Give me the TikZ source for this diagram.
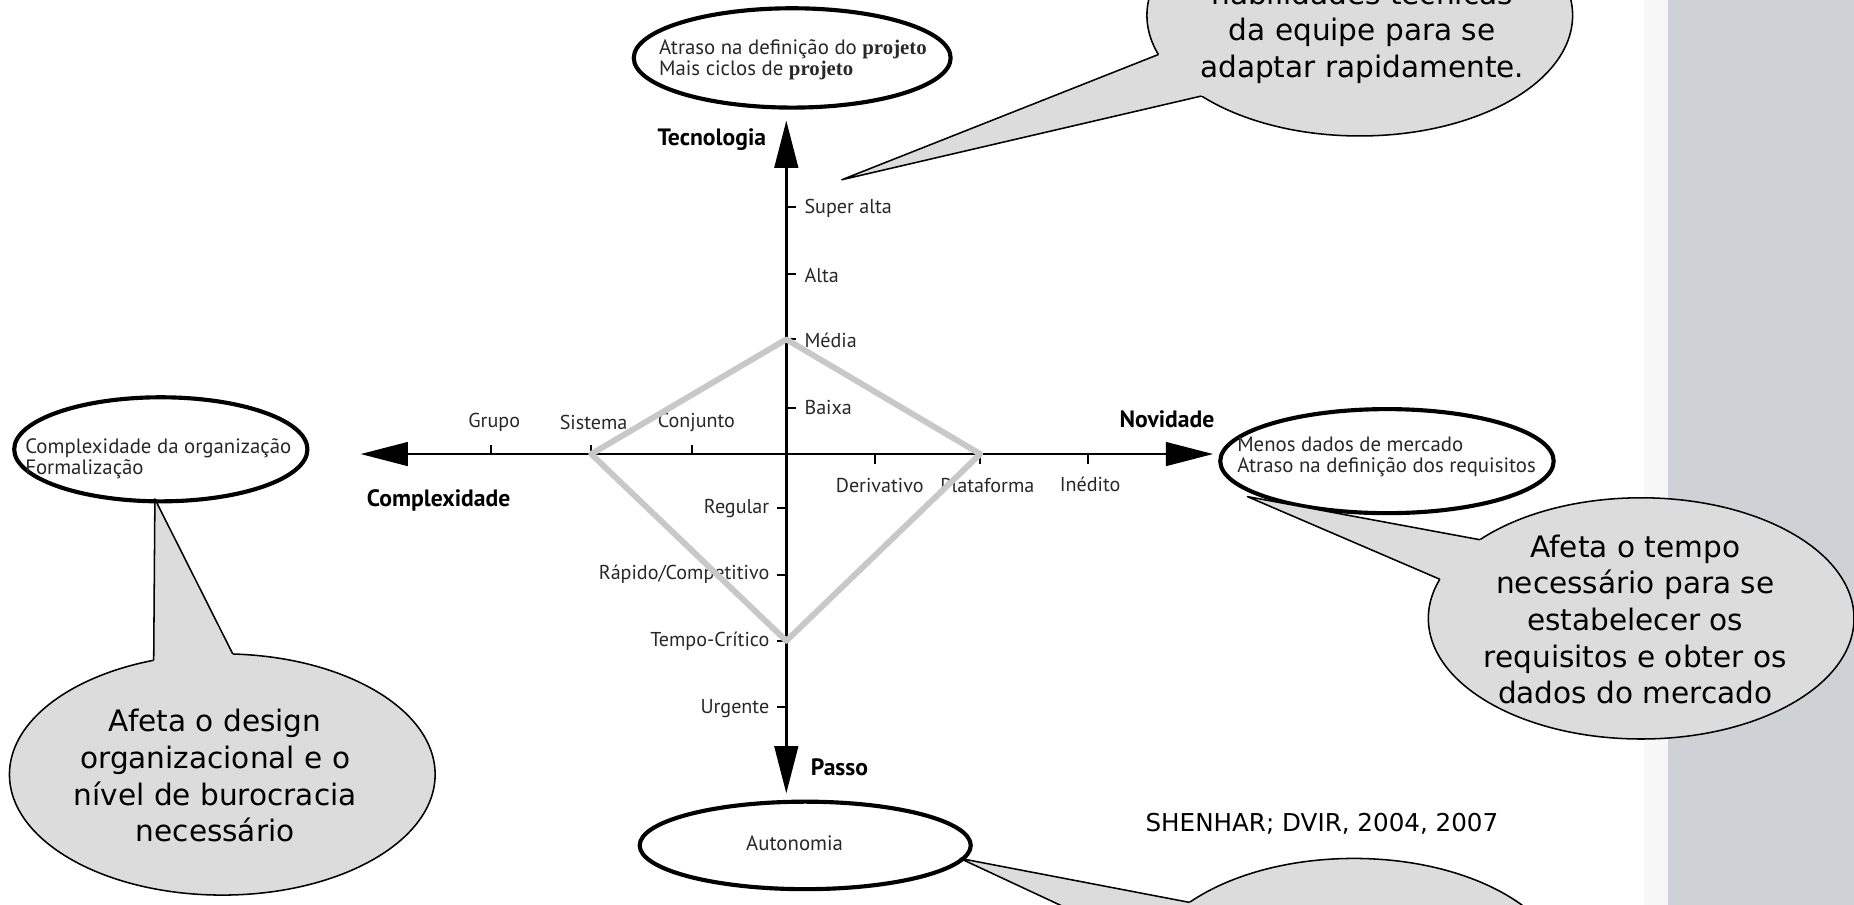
\documentclass[tikz,border=0pt]{standalone}
\usepackage{fontspec}
\setmainfont{PT Sans}
\newfontfamily\comicfont{DejaVu Sans}
\newfontfamily\projfont{Liberation Serif}
\usetikzlibrary{shapes.geometric,arrows.meta,calc}
\definecolor{panelgray}{RGB}{206,210,214}
\definecolor{bubblegray}{RGB}{220,220,220}
\definecolor{diamgray}{RGB}{200,200,200}
\definecolor{lbl}{RGB}{40,40,40}
\begin{document}
\begin{tikzpicture}[x=0.5pt,y=-0.5pt,
  axis/.style={line width=1.1pt,{Triangle[length=20pt,width=10pt]}-{Triangle[length=20pt,width=10pt]}},
  tickmark/.style={line width=0.8pt},
  ticklbl/.style={font=\fontsize{8.5}{10}\selectfont,text=lbl,inner sep=0pt},
  axlbl/.style={font=\fontsize{10}{12}\selectfont\bfseries,inner sep=0pt},
  bigell/.style={ellipse,draw,line width=1.75pt,fill=white,inner sep=0pt,outer sep=0pt},
  elltext/.style={font=\fontsize{8.8}{8.6}\selectfont,text=lbl,align=left,inner sep=0pt,anchor=west},
  bubble/.style={ellipse,draw,line width=0.65pt,fill=bubblegray,inner sep=0pt,outer sep=0pt,minimum width=180pt,minimum height=102pt},
  bubtext/.style={font=\comicfont\fontsize{12.5}{15.5}\selectfont,align=center,inner sep=0pt},
  tailline/.style={line width=0.65pt,line join=round},
  diampath/.style={draw=diamgray,line width=2.5pt,line join=round}
]
\useasboundingbox (0,0) rectangle (1568,765);
\clip (0,0) rectangle (1568,765);
\fill[white] (0,0) rectangle (1568,765);
\fill[gray!6] (1390,0) rectangle (1411,765);
\fill[panelgray] (1411,0) rectangle (1568,765);

% axes
\coordinate (O) at (665,384);
\coordinate (axL) at (305,384);
\coordinate (axR) at (1026,384);
\coordinate (axT) at (665,102);
\coordinate (axB) at (665,671);
\draw[axis] (axL) -- (axR);
\draw[axis] (axB) -- (axT);

% ticks
\foreach \n/\y in {SA/175,Al/232,Me/287,Ba/345}{
  \coordinate (t\n) at (665,\y);
  \draw[tickmark] (t\n) -- ++(8,0);
}
\foreach \n/\y in {Re/430,RC/486,TC/542,Ur/598}{
  \coordinate (t\n) at (665,\y);
  \draw[tickmark] (t\n) -- ++(-8,0);
}
\foreach \n/\x in {Gr/415,Si/500,Co/585}{
  \coordinate (t\n) at (\x,384);
  \draw[tickmark] (t\n) -- ++(0,-8);
}
\foreach \n/\x in {De/740,Pl/829,In/920}{
  \coordinate (t\n) at (\x,384);
  \draw[tickmark] (t\n) -- ++(0,8);
}

% tick labels
\node[ticklbl,anchor=west] (lSA) at (680,176) {Super alta};
\node[ticklbl,anchor=west] (lAl) at (680,233) {Alta};
\node[ticklbl,anchor=west] (lMe) at (680,288) {Média};
\node[ticklbl,anchor=west] (lBa) at (680,345) {Baixa};
\node[ticklbl,anchor=east] (lRe) at (651,430) {Regular};
\node[ticklbl,anchor=east] (lRC) at (651,486) {Rápido/Competitivo};
\node[ticklbl,anchor=east] (lTC) at (651,542) {Tempo-Crítico};
\node[ticklbl,anchor=east] (lUr) at (651,599) {Urgente};
\node[ticklbl] (lGr) at (418,357) {Grupo};
\node[ticklbl] (lSi) at (502,357) {Sistema};
\node[ticklbl] (lCo) at (589,357) {Conjunto};
\node[ticklbl] (lDe) at (744,411) {Derivativo};
\node[ticklbl] (lPl) at (835,411) {Plataforma};
\node[ticklbl] (lIn) at (922,410) {Inédito};

% axis labels
\node[axlbl] (tec) at (602,118) {Tecnologia};
\node[axlbl] (cpx) at (371,423) {Complexidade};
\node[axlbl] (nov) at (987,355) {Novidade};
\node[axlbl] (pas) at (710,649) {Passo};

% diamond
\draw[diampath] (tMe) -- (tPl) -- (tTC) -- (tSi) -- cycle;

% black ellipses
\node[bigell,minimum width=134pt,minimum height=42pt] (eTop) at (670,49) {};
\node[elltext] (eTopT) at (557,50.5) {Atraso na definição do {\projfont\bfseries projeto}\\Mais ciclos de {\projfont\bfseries projeto}};
\node[bigell,minimum width=124pt,minimum height=44pt] (eLeft) at (136,380) {};
\node[elltext] (eLeftT) at (21,388) {Complexidade da organização\\Formalização};
\node[bigell,minimum width=141pt,minimum height=44pt] (eRight) at (1173,390) {};
\node[elltext] (eRightT) at (1046,386.5) {Menos dados de mercado\\Atraso na definição dos requisitos};
\node[bigell,minimum width=140pt,minimum height=37pt] (eBot) at (681,715) {};
\node[ticklbl,font=\fontsize{8.8}{10}\selectfont] (eBotT) at (672,713) {Autonomia};

% source
\node[font=\comicfont\fontsize{10.4}{12}\selectfont,inner sep=0pt] (src) at (1118,697) {SHENHAR; DVIR, 2004, 2007};

% bubble top right
\node[bubble] (bTR) at (1150,13) {};
\coordinate (aTR) at (712,152);
\fill[bubblegray] (aTR) -- ($(aTR)!1.1!(bTR.191)$) -- ($(aTR)!1.1!(bTR.207)$) -- cycle;
\draw[tailline] (bTR.191) -- (aTR) -- (bTR.207);
\node[bubtext] (bTRt) at (1152,27) {habilidades técnicas\\da equipe para se\\adaptar rapidamente.};

% bubble left
\node[bubble] (bL) at (188,655) {};
\coordinate (aL) at (131,422);
\fill[bubblegray] (aL) -- ($(aL)!1.1!(bL.121)$) -- ($(aL)!1.1!(bL.85)$) -- cycle;
\draw[tailline] (bL.121) -- (aL) -- (bL.85);
\node[bubtext] (bLt) at (182,656) {Afeta o design\\organizacional e o\\nível de burocracia\\necessário};

% bubble right
\node[bubble] (bR) at (1388,523) {};
\coordinate (aR) at (1055,420);
\fill[bubblegray] (aR) -- ($(aR)!1.1!(bR.154.5)$) -- ($(aR)!1.1!(bR.169)$) -- cycle;
\draw[tailline] (bR.154.5) -- (aR) -- (bR.169);
\node[bubtext] (bRt) at (1383,524) {Afeta o tempo\\necessário para se\\estabelecer os\\requisitos e obter os\\dados do mercado};

% bubble bottom right
\node[bubble] (bB) at (1145,828) {};
\coordinate (aB) at (812,726);
\fill[bubblegray] (aB) -- ($(aB)!1.1!(bB.155)$) -- ($(aB)!1.1!(bB.171)$) -- cycle;
\draw[tailline] (bB.155) -- (aB) -- (bB.171);
\end{tikzpicture}
\end{document}
